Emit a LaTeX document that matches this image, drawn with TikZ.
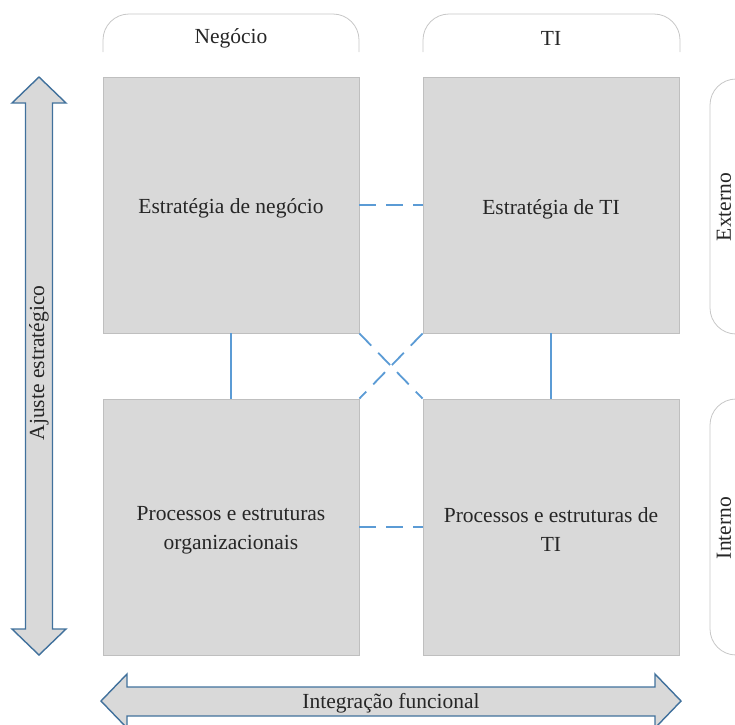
\documentclass[tikz,border=0pt]{standalone}
\usepackage{fontspec}
\setmainfont{Liberation Serif}
\begin{document}
\begin{tikzpicture}[x=1pt,y=-1pt]
\definecolor{linkblue}{HTML}{5B9BD5}
\definecolor{arrowblue}{HTML}{41719C}
\tikzset{
  every node/.style={font=\fontsize{21.5}{29}\selectfont, text=black!85},
  quad/.style={draw=black!25, line width=0.8pt, fill=black!15, minimum width=256pt, minimum height=256pt, inner sep=0pt, align=center},
  tab/.style={draw=black!22, line width=0.8pt, rounded corners=26pt},
  bigarrow/.style={draw=arrowblue, line width=1.4pt, fill=black!15, line join=miter},
  link/.style={draw=linkblue, line width=1.8pt},
  dlink/.style={link, dash pattern=on 17pt off 10pt}}
\useasboundingbox (0,0) rectangle (735,724);
\begin{scope}
\clip (0,0) rectangle (735,724);

% column headers
\draw[tab] (103,52) -- (103,14) -- (359,14) -- (359,52);
\draw[tab] (423,52) -- (423,14) -- (680,14) -- (680,52);
\node (hn) at (231,38) {Negócio};
\node (ht) at (551,38) {TI};

% row headers
\draw[tab] (760,79) -- (710,79) -- (710,334) -- (760,334);
\draw[tab] (760,399) -- (710,399) -- (710,655) -- (760,655);
\node[rotate=90] (rx) at (724,207) {Externo};
\node[rotate=90] (ri) at (724,528) {Interno};

% quadrants
\node[quad] (bn) at (231,205) {};
\node[quad] (bt) at (551,205) {};
\node[quad] (pn) at (231,527) {};
\node[quad] (pt) at (551,527) {};
\node[align=center] (tbn) at (231,208) {Estratégia de negócio};
\node[align=center] (tbt) at (551,209) {Estratégia de TI};
\node[align=center] (tpn) at (231,530) {Processos e estruturas\\organizacionais};
\node[align=center] (tpt) at (551,530) {Processos e estruturas de\\TI};

% links between quadrants
\draw[link] (bn.south) -- (pn.north);
\draw[link] (bt.south) -- (pt.north);
\draw[dlink] (bn.east) -- (bt.west);
\draw[dlink] (pn.east) -- (pt.west);
\draw[dlink] (bn.south east) -- (pt.north west);
\draw[dlink] (bt.south west) -- (pn.north east);

% vertical double arrow
\draw[bigarrow] (39,77) -- (66,103) -- (52.5,103) -- (52.5,629) -- (66,629) -- (39,655)
  -- (12,629) -- (25.5,629) -- (25.5,103) -- (12,103) -- cycle;
\node[rotate=90] (aj) at (39,363) {Ajuste estratégico};

% horizontal double arrow
\draw[bigarrow] (101,701) -- (127,674) -- (127,687) -- (655,687) -- (655,674) -- (681,701)
  -- (655,728) -- (655,716) -- (127,716) -- (127,728) -- cycle;
\node (ig) at (391,703) {Integração funcional};
\end{scope}
\end{tikzpicture}
\end{document}
